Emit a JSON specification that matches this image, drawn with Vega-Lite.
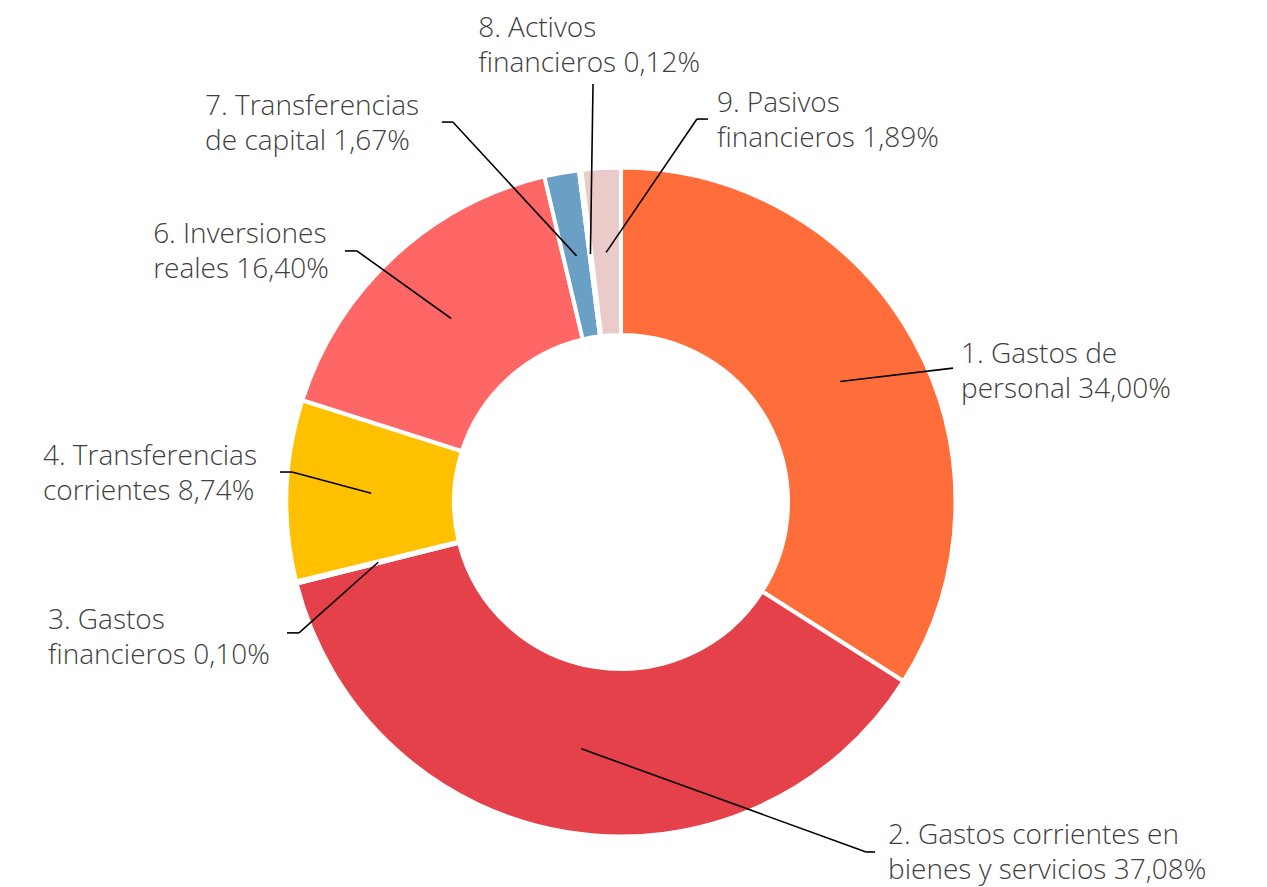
{
  "$schema": "https://vega.github.io/schema/vega-lite/v6.json",
  "width": 1242,
  "height": 770,
  "autosize": {"type": "none"},
  "padding": {"left": 0, "top": 117, "right": 25, "bottom": 0},
  "background": "white",
  "config": {
    "view": {"stroke": null},
    "text": {"font": "Open Sans", "fontSize": 28, "fontWeight": 300, "color": "#404040", "align": "left", "baseline": "alphabetic", "lineHeight": 35, "lineBreak": "\n"},
    "rule": {"color": "#000000", "strokeWidth": 1.6}
  },
  "data": {"values": [
    {"codigo": 1, "capitulo": "Gastos de personal", "porcentaje": 34.00, "etiqueta": "1. Gastos de\npersonal 34,00%"},
    {"codigo": 2, "capitulo": "Gastos corrientes en bienes y servicios", "porcentaje": 37.08, "etiqueta": "2. Gastos corrientes en\nbienes y servicios 37,08%"},
    {"codigo": 3, "capitulo": "Gastos financieros", "porcentaje": 0.10, "etiqueta": "3. Gastos\nfinancieros 0,10%"},
    {"codigo": 4, "capitulo": "Transferencias corrientes", "porcentaje": 8.74, "etiqueta": "4. Transferencias\ncorrientes 8,74%"},
    {"codigo": 6, "capitulo": "Inversiones reales", "porcentaje": 16.40, "etiqueta": "6. Inversiones\nreales 16,40%"},
    {"codigo": 7, "capitulo": "Transferencias de capital", "porcentaje": 1.67, "etiqueta": "7. Transferencias\nde capital 1,67%"},
    {"codigo": 8, "capitulo": "Activos financieros", "porcentaje": 0.12, "etiqueta": "8. Activos\nfinancieros 0,12%"},
    {"codigo": 9, "capitulo": "Pasivos financieros", "porcentaje": 1.89, "etiqueta": "9. Pasivos\nfinancieros 1,89%"}
  ]},
  "layer": [
    {
      "mark": {"type": "arc", "innerRadius": 167, "outerRadius": 334.5, "stroke": "#ffffff", "strokeWidth": 4},
      "encoding": {
        "theta": {"field": "porcentaje", "type": "quantitative", "stack": true},
        "order": {"field": "codigo", "type": "quantitative", "sort": "ascending"},
        "color": {"field": "codigo", "type": "nominal", "legend": null,
          "scale": {"domain": [1, 2, 3, 4, 6, 7, 8, 9], "range": ["#FF6D3B", "#E5414A", "#C00000", "#FFC000", "#FF6666", "#6A9FC6", "#A5A5A5", "#EBCACA"]}}
      }
    },
    {
      "transform": [{"filter": "datum.codigo == 1"}],
      "layer": [
        {"mark": "rule", "encoding": {
          "x": {"datum": 0.658, "type": "quantitative", "scale": {"domain": [-1.86486, 1.86486], "nice": false, "zero": false}, "axis": null},
          "y": {"datum": 0.362, "type": "quantitative", "scale": {"domain": [-1.15616, 1.15616], "nice": false, "zero": false}, "axis": null},
          "x2": {"datum": 0.997}, "y2": {"datum": 0.402}}},
        {"mark": "text", "encoding": {
          "x": {"datum": 1.021, "type": "quantitative", "scale": {"domain": [-1.86486, 1.86486], "nice": false, "zero": false}, "axis": null},
          "y": {"datum": 0.417, "type": "quantitative", "scale": {"domain": [-1.15616, 1.15616], "nice": false, "zero": false}, "axis": null},
          "text": {"field": "etiqueta"}}}
      ]
    },
    {
      "transform": [{"filter": "datum.codigo == 2"}],
      "layer": [
        {"mark": "rule", "encoding": {
          "x": {"datum": -0.119, "type": "quantitative", "scale": {"domain": [-1.86486, 1.86486], "nice": false, "zero": false}, "axis": null},
          "y": {"datum": -0.741, "type": "quantitative", "scale": {"domain": [-1.15616, 1.15616], "nice": false, "zero": false}, "axis": null},
          "x2": {"datum": 0.736}, "y2": {"datum": -1.051}}},
        {"mark": "rule", "encoding": {
          "x": {"datum": 0.736, "type": "quantitative", "scale": {"domain": [-1.86486, 1.86486], "nice": false, "zero": false}, "axis": null},
          "y": {"datum": -1.051, "type": "quantitative", "scale": {"domain": [-1.15616, 1.15616], "nice": false, "zero": false}, "axis": null},
          "x2": {"datum": 0.763}, "y2": {"datum": -1.051}}},
        {"mark": "text", "encoding": {
          "x": {"datum": 0.802, "type": "quantitative", "scale": {"domain": [-1.86486, 1.86486], "nice": false, "zero": false}, "axis": null},
          "y": {"datum": -1.027, "type": "quantitative", "scale": {"domain": [-1.15616, 1.15616], "nice": false, "zero": false}, "axis": null},
          "text": {"field": "etiqueta"}}}
      ]
    },
    {
      "transform": [{"filter": "datum.codigo == 3"}],
      "layer": [
        {"mark": "rule", "encoding": {
          "x": {"datum": -0.729, "type": "quantitative", "scale": {"domain": [-1.86486, 1.86486], "nice": false, "zero": false}, "axis": null},
          "y": {"datum": -0.181, "type": "quantitative", "scale": {"domain": [-1.15616, 1.15616], "nice": false, "zero": false}, "axis": null},
          "x2": {"datum": -0.967}, "y2": {"datum": -0.393}}},
        {"mark": "rule", "encoding": {
          "x": {"datum": -0.967, "type": "quantitative", "scale": {"domain": [-1.86486, 1.86486], "nice": false, "zero": false}, "axis": null},
          "y": {"datum": -0.393, "type": "quantitative", "scale": {"domain": [-1.15616, 1.15616], "nice": false, "zero": false}, "axis": null},
          "x2": {"datum": -1.003}, "y2": {"datum": -0.393}}},
        {"mark": "text", "encoding": {
          "x": {"datum": -1.721, "type": "quantitative", "scale": {"domain": [-1.86486, 1.86486], "nice": false, "zero": false}, "axis": null},
          "y": {"datum": -0.381, "type": "quantitative", "scale": {"domain": [-1.15616, 1.15616], "nice": false, "zero": false}, "axis": null},
          "text": {"field": "etiqueta"}}}
      ]
    },
    {
      "transform": [{"filter": "datum.codigo == 4"}],
      "layer": [
        {"mark": "rule", "encoding": {
          "x": {"datum": -0.750, "type": "quantitative", "scale": {"domain": [-1.86486, 1.86486], "nice": false, "zero": false}, "axis": null},
          "y": {"datum": 0.026, "type": "quantitative", "scale": {"domain": [-1.15616, 1.15616], "nice": false, "zero": false}, "axis": null},
          "x2": {"datum": -0.988}, "y2": {"datum": 0.090}}},
        {"mark": "rule", "encoding": {
          "x": {"datum": -0.988, "type": "quantitative", "scale": {"domain": [-1.86486, 1.86486], "nice": false, "zero": false}, "axis": null},
          "y": {"datum": 0.090, "type": "quantitative", "scale": {"domain": [-1.15616, 1.15616], "nice": false, "zero": false}, "axis": null},
          "x2": {"datum": -1.024}, "y2": {"datum": 0.090}}},
        {"mark": "text", "encoding": {
          "x": {"datum": -1.736, "type": "quantitative", "scale": {"domain": [-1.86486, 1.86486], "nice": false, "zero": false}, "axis": null},
          "y": {"datum": 0.111, "type": "quantitative", "scale": {"domain": [-1.15616, 1.15616], "nice": false, "zero": false}, "axis": null},
          "text": {"field": "etiqueta"}}}
      ]
    },
    {
      "transform": [{"filter": "datum.codigo == 6"}],
      "layer": [
        {"mark": "rule", "encoding": {
          "x": {"datum": -0.510, "type": "quantitative", "scale": {"domain": [-1.86486, 1.86486], "nice": false, "zero": false}, "axis": null},
          "y": {"datum": 0.551, "type": "quantitative", "scale": {"domain": [-1.15616, 1.15616], "nice": false, "zero": false}, "axis": null},
          "x2": {"datum": -0.793}, "y2": {"datum": 0.754}}},
        {"mark": "rule", "encoding": {
          "x": {"datum": -0.793, "type": "quantitative", "scale": {"domain": [-1.86486, 1.86486], "nice": false, "zero": false}, "axis": null},
          "y": {"datum": 0.754, "type": "quantitative", "scale": {"domain": [-1.15616, 1.15616], "nice": false, "zero": false}, "axis": null},
          "x2": {"datum": -0.829}, "y2": {"datum": 0.754}}},
        {"mark": "text", "encoding": {
          "x": {"datum": -1.405, "type": "quantitative", "scale": {"domain": [-1.86486, 1.86486], "nice": false, "zero": false}, "axis": null},
          "y": {"datum": 0.778, "type": "quantitative", "scale": {"domain": [-1.15616, 1.15616], "nice": false, "zero": false}, "axis": null},
          "text": {"field": "etiqueta"}}}
      ]
    },
    {
      "transform": [{"filter": "datum.codigo == 7"}],
      "layer": [
        {"mark": "rule", "encoding": {
          "x": {"datum": -0.1335, "type": "quantitative", "scale": {"domain": [-1.86486, 1.86486], "nice": false, "zero": false}, "axis": null},
          "y": {"datum": 0.739, "type": "quantitative", "scale": {"domain": [-1.15616, 1.15616], "nice": false, "zero": false}, "axis": null},
          "x2": {"datum": -0.505}, "y2": {"datum": 1.141}}},
        {"mark": "rule", "encoding": {
          "x": {"datum": -0.505, "type": "quantitative", "scale": {"domain": [-1.86486, 1.86486], "nice": false, "zero": false}, "axis": null},
          "y": {"datum": 1.141, "type": "quantitative", "scale": {"domain": [-1.15616, 1.15616], "nice": false, "zero": false}, "axis": null},
          "x2": {"datum": -0.538}, "y2": {"datum": 1.141}}},
        {"mark": "text", "encoding": {
          "x": {"datum": -1.249, "type": "quantitative", "scale": {"domain": [-1.86486, 1.86486], "nice": false, "zero": false}, "axis": null},
          "y": {"datum": 1.162, "type": "quantitative", "scale": {"domain": [-1.15616, 1.15616], "nice": false, "zero": false}, "axis": null},
          "text": {"field": "etiqueta"}}}
      ]
    },
    {
      "transform": [{"filter": "datum.codigo == 8"}],
      "layer": [
        {"mark": "rule", "encoding": {
          "x": {"datum": -0.0918, "type": "quantitative", "scale": {"domain": [-1.86486, 1.86486], "nice": false, "zero": false}, "axis": null},
          "y": {"datum": 0.745, "type": "quantitative", "scale": {"domain": [-1.15616, 1.15616], "nice": false, "zero": false}, "axis": null},
          "x2": {"datum": -0.084}, "y2": {"datum": 1.255}}},
        {"mark": "text", "encoding": {
          "x": {"datum": -0.429, "type": "quantitative", "scale": {"domain": [-1.86486, 1.86486], "nice": false, "zero": false}, "axis": null},
          "y": {"datum": 1.396, "type": "quantitative", "scale": {"domain": [-1.15616, 1.15616], "nice": false, "zero": false}, "axis": null},
          "text": {"field": "etiqueta"}}}
      ]
    },
    {
      "transform": [{"filter": "datum.codigo == 9"}],
      "layer": [
        {"mark": "rule", "encoding": {
          "x": {"datum": -0.0445, "type": "quantitative", "scale": {"domain": [-1.86486, 1.86486], "nice": false, "zero": false}, "axis": null},
          "y": {"datum": 0.7495, "type": "quantitative", "scale": {"domain": [-1.15616, 1.15616], "nice": false, "zero": false}, "axis": null},
          "x2": {"datum": 0.228}, "y2": {"datum": 1.150}}},
        {"mark": "rule", "encoding": {
          "x": {"datum": 0.228, "type": "quantitative", "scale": {"domain": [-1.86486, 1.86486], "nice": false, "zero": false}, "axis": null},
          "y": {"datum": 1.150, "type": "quantitative", "scale": {"domain": [-1.15616, 1.15616], "nice": false, "zero": false}, "axis": null},
          "x2": {"datum": 0.261}, "y2": {"datum": 1.150}}},
        {"mark": "text", "encoding": {
          "x": {"datum": 0.288, "type": "quantitative", "scale": {"domain": [-1.86486, 1.86486], "nice": false, "zero": false}, "axis": null},
          "y": {"datum": 1.171, "type": "quantitative", "scale": {"domain": [-1.15616, 1.15616], "nice": false, "zero": false}, "axis": null},
          "text": {"field": "etiqueta"}}}
      ]
    }
  ]
}
